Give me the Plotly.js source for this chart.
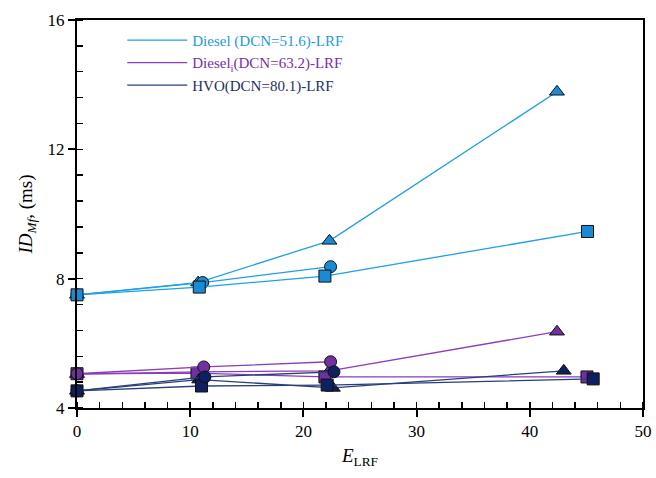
<!DOCTYPE html>
<html><head><meta charset="utf-8">
<script src="https://cdn.plot.ly/plotly-3.0.1.min.js"></script>
<style>body{margin:0;background:#fff}#c{width:656px;height:478px}</style>
</head><body><div id="c"></div>
<script>
// Diesel (DCN=51.6)-LRF
const dsl_tri_x = [0, 10.7, 22.3, 42.4];
const dsl_tri_y = [7.5, 7.88, 9.17, 13.78];
const dsl_cir_x = [0, 11.1, 22.4];
const dsl_cir_y = [7.5, 7.88, 8.37];
const dsl_sq_x = [0, 10.8, 21.9, 45.1];
const dsl_sq_y = [7.5, 7.74, 8.08, 9.46];
// Diesel_i (DCN=63.2)-LRF
const dsi_tri_x = [0, 10.8, 22.3, 42.4];
const dsi_tri_y = [5.05, 5.12, 5.15, 6.36];
const dsi_cir_x = [0, 11.2, 22.4];
const dsi_cir_y = [5.06, 5.27, 5.43];
const dsi_sq_x = [0, 10.6, 21.9, 45.05];
const dsi_sq_y = [5.06, 5.08, 4.96, 4.96];
// HVO (DCN=80.1)-LRF
const hvo_tri_x = [0, 10.8, 22.6, 43.0];
const hvo_tri_y = [4.53, 4.88, 4.62, 5.15];
const hvo_cir_x = [0, 11.3, 22.7];
const hvo_cir_y = [4.53, 4.96, 5.12];
const hvo_sq_x = [0, 11.0, 22.1, 45.6];
const hvo_sq_y = [4.53, 4.68, 4.71, 4.9];

const legendNames = [
  '<span style="color:#1c9be0">Diesel (DCN=51.6)-LRF</span>',
  '<span style="color:#7a2fa6">Diesel<sub>i</sub>(DCN=63.2)-LRF</span>',
  '<span style="color:#1f2f66">HVO(DCN=80.1)-LRF</span>'
];

const groups = [
  {line:'#1f9fe6', fill:'#1b8ad6', sets:[[dsl_tri_x,dsl_tri_y,'triangle-up'],[dsl_cir_x,dsl_cir_y,'circle'],[dsl_sq_x,dsl_sq_y,'square']]},
  {line:'#8b3cba', fill:'#7030a0', sets:[[dsi_tri_x,dsi_tri_y,'triangle-up'],[dsi_sq_x,dsi_sq_y,'square'],[dsi_cir_x,dsi_cir_y,'circle']]},
  {line:'#2a3f78', fill:'#0f2060', sets:[[hvo_tri_x,hvo_tri_y,'triangle-up'],[hvo_sq_x,hvo_sq_y,'square'],[hvo_cir_x,hvo_cir_y,'circle']]}
];

const traces = [];
groups.forEach((g, gi) => {
  g.sets.forEach(s => {
    traces.push({
      x: s[0], y: s[1], type: 'scatter', mode: 'lines+markers', showlegend: false,
      cliponaxis: false,
      line: {color: g.line, width: 1.3},
      marker: {symbol: s[2], size: s[2]==='triangle-up' ? 13 : 12, color: g.fill, line: {color: '#111', width: 1}}
    });
  });
});
groups.forEach((g, gi) => {
  traces.push({x: [null], y: [null], type: 'scatter', mode: 'lines', name: legendNames[gi],
    line: {color: g.line, width: 1.3}, showlegend: true});
});

const font = {family: '"Liberation Serif", "Times New Roman", serif', color: '#000'};

const layout = {
  width: 656, height: 478,
  margin: {l: 77, r: 13, t: 20, b: 70},
  paper_bgcolor: '#fff', plot_bgcolor: '#fff',
  font: Object.assign({size: 16}, font),
  showlegend: true,
  legend: {x: 0.08, y: 0.99, xanchor: 'left', yanchor: 'top', bgcolor: 'rgba(0,0,0,0)',
    font: Object.assign({size: 15}, font), tracegroupgap: 0, itemwidth: 60},
  xaxis: {
    range: [0, 50], dtick: 10, tick0: 0, showgrid: false, zeroline: false,
    showline: true, linecolor: '#000', linewidth: 2, mirror: true,
    ticks: 'outside', ticklen: 7, tickwidth: 2, tickcolor: '#000',
    minor: {dtick: 2, ticks: 'inside', ticklen: 6, tickwidth: 1.5, tickcolor: '#000'},
    tickfont: Object.assign({size: 17}, font),
    title: {text: '<i>E</i><sub>LRF</sub>', font: Object.assign({size: 19}, font), standoff: 8}
  },
  yaxis: {
    range: [4, 16], dtick: 4, tick0: 4, showgrid: false, zeroline: false,
    showline: true, linecolor: '#000', linewidth: 2, mirror: true,
    ticks: 'outside', ticklen: 7, tickwidth: 2, tickcolor: '#000',
    minor: {dtick: 0.8, ticks: 'inside', ticklen: 6, tickwidth: 1.5, tickcolor: '#000'},
    tickfont: Object.assign({size: 17}, font),
    title: {text: '<i>ID</i><sub><i>Mf</i></sub>, (ms)', font: Object.assign({size: 19}, font), standoff: 10}
  }
};

Plotly.newPlot('c', traces, layout, {displayModeBar: false, staticPlot: true});
</script></body></html>
